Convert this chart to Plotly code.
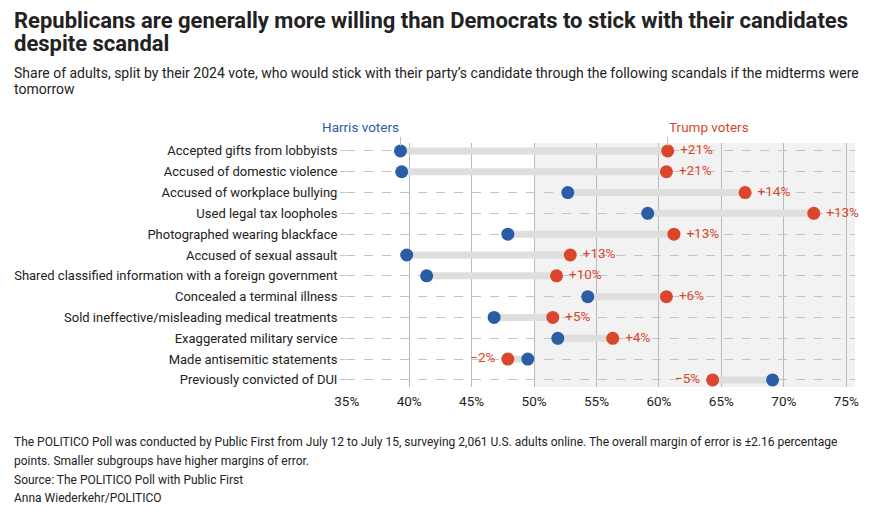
import plotly.graph_objects as go

scandals = [
    "Accepted gifts from lobbyists",
    "Accused of domestic violence",
    "Accused of workplace bullying",
    "Used legal tax loopholes",
    "Photographed wearing blackface",
    "Accused of sexual assault",
    "Shared classified information with a foreign government",
    "Concealed a terminal illness",
    "Sold ineffective/misleading medical treatments",
    "Exaggerated military service",
    "Made antisemitic statements",
    "Previously convicted of DUI",
]
harris = [39.3, 39.4, 52.7, 59.1, 47.9, 39.8, 41.4, 54.3, 46.8, 51.9, 49.5, 69.1]
trump = [60.7, 60.6, 66.9, 72.4, 61.2, 52.9, 51.8, 60.6, 51.5, 56.3, 47.9, 64.3]
gap_labels = ["+21%", "+21%", "+14%", "+13%", "+13%", "+13%", "+10%",
              "+6%", "+5%", "+4%", "\u22122%", "\u22125%"]
tick_vals = [35, 40, 45, 50, 55, 60, 65, 70, 75]
tick_text = ["35%", "40%", "45%", "50%", "55%", "60%", "65%", "70%", "75%"]

BLUE = "#2b5ca6"
RED = "#d9462c"
FONT = "Roboto"
INK = "#222222"

# the page body adds an 8px margin, so the figure is drawn 8px smaller
OFF = 8
W, H = 870 - OFF, 516 - OFF
L, R, T, B = 346 - OFF, 15, 143 - OFF, 129
x_range = [34.94, 75.7]


def px_x(p):
    return (p - OFF - L) / (W - L - R)


def px_y(p):
    return (H - B - (p - OFF)) / (H - T - B)


fig = go.Figure()

# connector bars
bx, by = [], []
for s, h, t in zip(scandals, harris, trump):
    bx += [h, t, None]
    by += [s, s, None]
fig.add_trace(go.Scatter(x=bx, y=by, mode="lines",
                         line=dict(color="#dedede", width=7),
                         hoverinfo="skip", showlegend=False))

fig.add_trace(go.Scatter(x=harris, y=scandals, mode="markers",
                         marker=dict(color=BLUE, size=13),
                         name="Harris voters", showlegend=False))

neg = [g.startswith("\u2212") for g in gap_labels]
positions = ["middle left" if n else "middle right" for n in neg]
texts = [g + "&nbsp;" if n else "&nbsp;" + g for g, n in zip(gap_labels, neg)]
fig.add_trace(go.Scatter(x=trump, y=scandals, mode="markers+text",
                         marker=dict(color=RED, size=13),
                         text=texts, textposition=positions, cliponaxis=False,
                         textfont=dict(color=RED, size=13.5, family=FONT),
                         name="Trump voters", showlegend=False))

# shaded majority region
fig.add_shape(type="rect", xref="x", yref="paper", x0=50, x1=x_range[1],
              y0=0, y1=1, fillcolor="#f2f2f2", line_width=0, layer="below")

# series labels above first row
for xv, txt, col, anc in [(harris[0], "Harris voters", BLUE, "right"),
                          (trump[0], "Trump voters", RED, "left")]:
    fig.add_shape(type="line", xref="x", yref="paper", x0=xv, x1=xv,
                  y0=px_y(146), y1=px_y(137), line=dict(color="#bbbbbb", width=1))
    fig.add_annotation(x=xv, y=px_y(137), xref="x", yref="paper", text=txt,
                       showarrow=False, xanchor=anc, yanchor="bottom",
                       xshift=1 if anc == "right" else -1,
                       font=dict(color=col, size=13.5, family=FONT))

title_lines = [
    (20, "Republicans are generally more willing than Democrats to stick with their candidates"),
    (44, "despite scandal"),
]
for yp, txt in title_lines:
    fig.add_annotation(x=px_x(12), y=px_y(yp), xref="paper", yref="paper",
                       xanchor="left", yanchor="middle", showarrow=False,
                       text="<b>" + txt + "</b>",
                       font=dict(size=22, color=INK, family=FONT))

subtitle_lines = [
    (73, "Share of adults, split by their 2024 vote, who would stick with their party\u2019s candidate "
         "through the following scandals if the midterms were"),
    (89, "tomorrow"),
]
for yp, txt in subtitle_lines:
    fig.add_annotation(x=px_x(12), y=px_y(yp), xref="paper", yref="paper",
                       xanchor="left", yanchor="middle", showarrow=False, text=txt,
                       font=dict(size=14, color=INK, family=FONT))

footer = [
    (442, "The POLITICO Poll was conducted by Public First from July 12 to July 15, surveying 2,061 U.S. "
          "adults online. The overall margin of error is \u00b12.16 percentage"),
    (461, "points. Smaller subgroups have higher margins of error."),
    (480, "Source: The POLITICO Poll with Public First"),
    (498, "Anna Wiederkehr/POLITICO"),
]
for yp, txt in footer:
    fig.add_annotation(x=px_x(12), y=px_y(yp), xref="paper", yref="paper",
                       xanchor="left", yanchor="middle", showarrow=False, text=txt,
                       font=dict(size=12, color=INK, family=FONT))

fig.update_xaxes(range=x_range, tickvals=tick_vals, ticktext=tick_text,
                 showgrid=True, gridcolor="#bababa", gridwidth=1, zeroline=False,
                 showline=False, ticks="", ticklabelstandoff=4, automargin=False,
                 tickfont=dict(size=13.5, color=INK, family=FONT),
                 fixedrange=True)
fig.update_yaxes(categoryorder="array", categoryarray=scandals,
                 range=[len(scandals) - 1 + 0.34, -0.38],
                 showgrid=True, gridcolor="#c4c4c4", griddash="dash", gridwidth=1,
                 zeroline=False, showline=False, ticks="outside", ticklen=5,
                 tickcolor="#c4c4c4", automargin=False,
                 tickfont=dict(size=13, color=INK, family=FONT),
                 fixedrange=True)
fig.update_layout(width=W, height=H, margin=dict(l=L, r=R, t=T, b=B),
                  paper_bgcolor="white", plot_bgcolor="white",
                  font=dict(family=FONT), showlegend=False)

fig.write_html("out.html")
